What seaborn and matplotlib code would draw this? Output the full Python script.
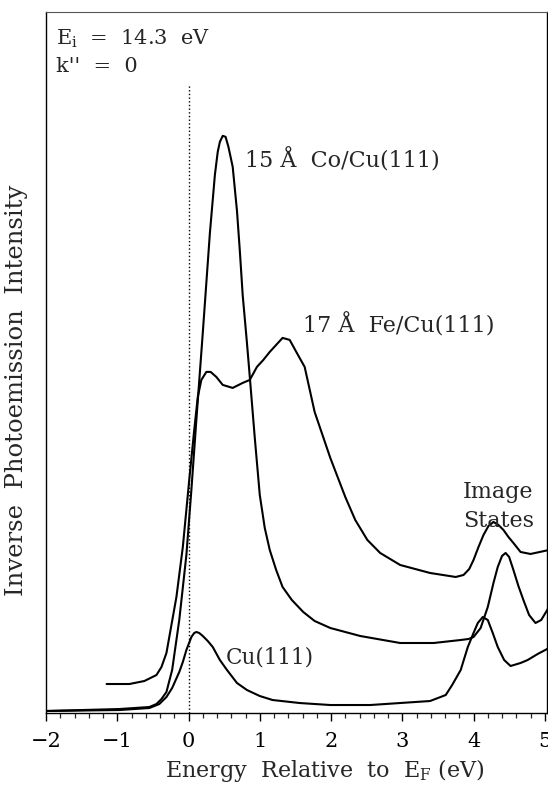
import numpy as np
import pandas as pd
import seaborn as sns
import matplotlib.pyplot as plt
from matplotlib.ticker import MultipleLocator

# energy (eV) / intensity (arb. units)
cu_e = [-2.01, -0.97, -0.55, -0.41, -0.31, -0.23, -0.13, -0.08, -0.03, 0.04, 0.08, 0.11, 0.15,
        0.20, 0.27, 0.34, 0.44, 0.54, 0.68, 0.82, 1.00, 1.18, 1.56, 1.99, 2.55, 2.97, 3.39,
        3.61, 3.70, 3.82, 3.92, 4.00, 4.06, 4.13, 4.20, 4.27, 4.34, 4.43, 4.52, 4.66, 4.76,
        4.90, 5.06]
cu_i = [0.02, 0.03, 0.05, 0.09, 0.16, 0.25, 0.41, 0.51, 0.63, 0.76, 0.80, 0.81, 0.80,
        0.77, 0.72, 0.66, 0.53, 0.43, 0.30, 0.23, 0.17, 0.13, 0.10, 0.08, 0.08, 0.10, 0.12,
        0.18, 0.28, 0.43, 0.66, 0.80, 0.90, 0.96, 0.93, 0.80, 0.66, 0.53, 0.47, 0.50, 0.53,
        0.59, 0.65]

co_e = [-2.01, -0.97, -0.55, -0.45, -0.38, -0.31, -0.23, -0.13, -0.03, 0.04, 0.11, 0.20, 0.30,
        0.37, 0.41, 0.44, 0.48, 0.52, 0.56, 0.62, 0.68, 0.72, 0.76, 0.82, 0.86, 0.93, 1.00,
        1.07, 1.14, 1.23, 1.32, 1.45, 1.61, 1.77, 1.99, 2.41, 2.97, 3.44, 3.82, 3.93, 4.00,
        4.10, 4.20, 4.28, 4.34, 4.40, 4.45, 4.50, 4.56, 4.63, 4.70, 4.78, 4.87, 4.95, 5.06]
co_i = [0.02, 0.04, 0.06, 0.09, 0.14, 0.21, 0.43, 0.93, 1.58, 2.23, 2.93, 3.80, 4.80,
        5.38, 5.61, 5.71, 5.77, 5.76, 5.66, 5.46, 5.02, 4.62, 4.18, 3.70, 3.36, 2.75, 2.18,
        1.85, 1.63, 1.43, 1.26, 1.13, 1.01, 0.92, 0.85, 0.77, 0.70, 0.70, 0.73, 0.74, 0.76,
        0.85, 1.06, 1.30, 1.46, 1.57, 1.60, 1.56, 1.43, 1.27, 1.13, 0.98, 0.90, 0.93, 1.06]

fe_e = [-1.15, -0.83, -0.62, -0.45, -0.38, -0.31, -0.17, -0.08, 0.01, 0.08, 0.13, 0.18, 0.25,
        0.31, 0.39, 0.48, 0.62, 0.76, 0.86, 0.96, 1.05, 1.14, 1.23, 1.32, 1.42, 1.52, 1.63,
        1.77, 1.99, 2.20, 2.34, 2.51, 2.69, 2.97, 3.39, 3.75, 3.86, 3.94, 4.00, 4.07, 4.14,
        4.21, 4.28, 4.35, 4.42, 4.49, 4.56, 4.66, 4.80, 5.06]
fe_i = [0.29, 0.29, 0.32, 0.38, 0.46, 0.60, 1.16, 1.66, 2.33, 2.83, 3.16, 3.33, 3.41,
        3.41, 3.36, 3.28, 3.25, 3.30, 3.33, 3.46, 3.53, 3.61, 3.68, 3.75, 3.73, 3.60, 3.46,
        3.01, 2.55, 2.16, 1.93, 1.73, 1.60, 1.48, 1.40, 1.36, 1.38, 1.44, 1.53, 1.66, 1.78,
        1.87, 1.91, 1.88, 1.83, 1.76, 1.70, 1.61, 1.59, 1.63]

sns.set_style('ticks')
plt.rcParams['font.family'] = ['DejaVu Serif']
plt.rcParams['mathtext.fontset'] = 'dejavuserif'
plt.rcParams['axes.unicode_minus'] = True

fig = plt.figure(figsize=(5.48, 7.87), dpi=100)
ax = fig.add_axes([0.084, 0.094, 0.914, 0.891])

for e, i in [(cu_e, cu_i), (co_e, co_i), (fe_e, fe_i)]:
    df = pd.DataFrame({'E': e, 'I': i})
    sns.lineplot(data=df, x='E', y='I', color='black', linewidth=1.5, estimator=None, ax=ax)

ax.plot([0, 0], [0, 6.29], color='black', linestyle=':', linewidth=1.0)

ax.set_xlim(-2, 5.03)
ax.set_ylim(0, 7.01)
ax.set_yticks([])
ax.xaxis.set_major_locator(MultipleLocator(1))
ax.xaxis.set_minor_locator(MultipleLocator(0.2))
ax.tick_params(axis='x', which='major', direction='out', length=6, width=1.0,
               labelsize=15, pad=8, colors='black')
ax.tick_params(axis='x', which='minor', direction='out', length=3.5, width=0.9)
for s in ax.spines.values():
    s.set_linewidth(1.0)
    s.set_color('black')
ax.spines['top'].set_color('#555555')
ax.spines['top'].set_linewidth(0.8)

ax.set_xlabel(r'Energy  Relative  to  E$_{\rm F}$ (eV)', fontsize=16)
ax.set_ylabel('Inverse  Photoemission  Intensity', fontsize=17.5)
ax.xaxis.set_label_coords(0.557, -0.063)
ax.yaxis.set_label_coords(-0.036, 0.46)

ax.text(0.02, 0.978, r'E$_{\rm i}$  =  14.3  eV', transform=ax.transAxes, fontsize=15,
        ha='left', va='top')
ax.text(0.02, 0.935, "k''  =  0", transform=ax.transAxes, fontsize=15, ha='left', va='top')

ax.text(0.79, 5.53, '15 Å  Co/Cu(111)', fontsize=16, ha='left', va='center')
ax.text(1.61, 3.88, '17 Å  Fe/Cu(111)', fontsize=16, ha='left', va='center')
ax.text(0.52, 0.56, 'Cu(111)', fontsize=15.5, ha='left', va='center')
ax.text(3.85, 2.21, 'Image', fontsize=16, ha='left', va='center')
ax.text(3.85, 1.92, 'States', fontsize=16, ha='left', va='center')

fig.savefig('out.png', dpi=100)
